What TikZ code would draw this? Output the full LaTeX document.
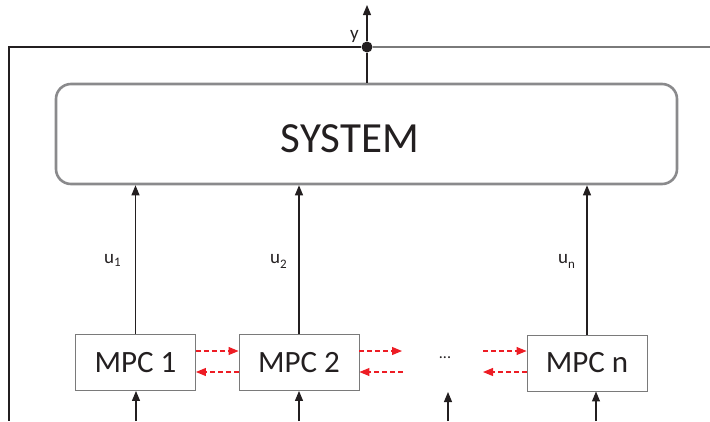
\documentclass[tikz,border=0pt]{standalone}
\usepackage{fontspec}
\setmainfont{Carlito}
\usetikzlibrary{arrows.meta}
\definecolor{txt}{HTML}{231F20}
\definecolor{boxgray}{HTML}{8A8A8C}
\definecolor{thin}{HTML}{7A7A7A}
\definecolor{dashred}{HTML}{ED1C24}
\tikzset{
  mpcbox/.style={draw=thin, line width=0.9pt, minimum width=120pt, minimum height=56pt, inner sep=0pt, text=txt, font=\fontsize{31}{31}\selectfont},
  sysbox/.style={draw=boxgray, line width=2.6pt, rounded corners=15pt, minimum width=621pt, minimum height=100pt, inner sep=0pt},
  blk/.style={draw=txt, line width=1.1pt},
  blkarrow/.style={blk, -{Triangle[length=10pt,width=8pt]}},
  redarrow/.style={draw=dashred, line width=1.1pt, dash pattern=on 5pt off 3pt, -{Triangle[length=10pt,width=8pt]}},
  lbl/.style={text=txt, inner sep=0pt, font=\fontsize{19}{19}\selectfont},
}
\begin{document}
\begin{tikzpicture}[x=1pt,y=-1pt]
\useasboundingbox (0,0) rectangle (710,421);
% system
\node[sysbox] (system) at (366.5,134) {};
\node[text=txt, inner sep=0pt, font=\fontsize{43}{43}\selectfont] (systext) at (350,139) {SYSTEM};
% output
\node[circle, fill=txt, inner sep=0pt, minimum size=11pt] (dot) at (367,47) {};
\coordinate (ytop) at (367,5);
\coordinate (rightend) at (710,47);
\coordinate (corner) at (9,47);
\coordinate (leftbottom) at (9,421);
\draw[blk] (system.north -| dot) -- (dot);
\draw[blkarrow] (dot) -- (ytop);
\draw[draw=thin, line width=1.1pt] (dot) -- (rightend);
\draw[blk] (dot) -- (corner) -- (leftbottom);
\node[lbl, anchor=east] (ylbl) at (359,36) {y};
% MPC boxes
\node[mpcbox] (mpc1) at (135.5,362.5) {MPC 1};
\node[mpcbox] (mpc2) at (299,362.5) {MPC 2};
\node[mpcbox] (mpcn) at (587,363) {MPC n};
\node[text=txt, inner sep=0pt, font=\fontsize{16}{16}\selectfont] (dots) at (445,358) {...};
% control arrows
\draw[blkarrow] (mpc1.north) -- (mpc1.north |- system.south);
\draw[blkarrow] (mpc2.north) -- (mpc2.north |- system.south);
\draw[blkarrow] (mpcn.north) -- (mpcn.north |- system.south);
\node[lbl, anchor=base west] (u1) at (104,263) {u\raisebox{-3pt}{\fontsize{13}{13}\selectfont 1}};
\node[lbl, anchor=base west] (u2) at (270,263) {u\raisebox{-5pt}{\fontsize{13}{13}\selectfont 2}};
\node[lbl, anchor=base west] (un) at (558,263) {u\raisebox{-5pt}{\fontsize{13}{13}\selectfont n}};
% inputs from below
\coordinate (in1) at (136,421);
\coordinate (in2) at (299,421);
\coordinate (ind) at (448,421);
\coordinate (indtop) at (448,392);
\coordinate (inn) at (596,421);
\draw[blkarrow] (in1) -- (in1 |- mpc1.south);
\draw[blkarrow] (in2) -- (in2 |- mpc2.south);
\draw[blkarrow] (ind) -- (indtop);
\draw[blkarrow] (inn) -- (inn |- mpcn.south);
% red communication arrows
\coordinate (d2u) at (402,351);
\coordinate (d2l) at (403,372);
\coordinate (dnu) at (483,351);
\coordinate (dnl) at (483,372);
\draw[redarrow] ([yshift=11.5pt]mpc1.east) -- ([yshift=11.5pt]mpc2.west);
\draw[redarrow] ([yshift=-9.5pt]mpc2.west) -- ([yshift=-9.5pt]mpc1.east);
\draw[redarrow] ([yshift=11.5pt]mpc2.east) -- (d2u);
\draw[redarrow] (d2l) -- ([yshift=-9.5pt]mpc2.east);
\draw[redarrow] (dnu) -- ([yshift=12pt]mpcn.west);
\draw[redarrow] ([yshift=-9pt]mpcn.west) -- (dnl);
\end{tikzpicture}
\end{document}
